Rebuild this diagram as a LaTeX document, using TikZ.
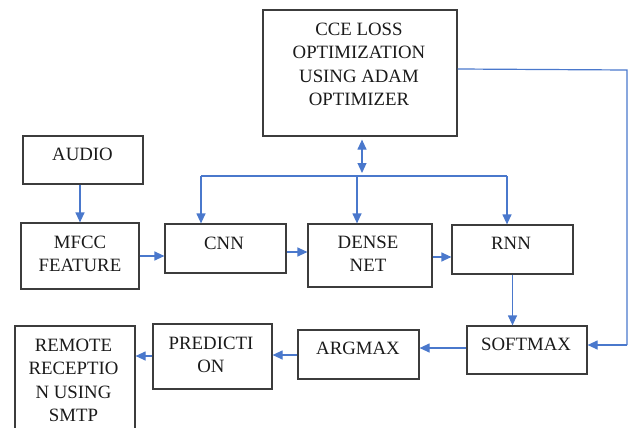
\documentclass[tikz,border=0pt]{standalone}
\usepackage{fontspec}
\setmainfont{Liberation Serif}
\newfontfamily\boxfont{Liberation Serif}
\usetikzlibrary{arrows.meta}
\definecolor{edgec}{HTML}{3C3C3C}
\definecolor{linkc}{HTML}{4A78CC}
\definecolor{textc}{HTML}{1A1A1A}
\begin{document}
\begin{tikzpicture}[x=1pt,y=-1pt,
  box/.style={draw=edgec, line width=1.2pt, rectangle, inner sep=0pt},
  txt/.style={inner sep=0pt, anchor=north, align=center, text=textc,
    font=\boxfont\fontsize{18.8}{23.3}\selectfont},
  tip/.style={Triangle[length=10pt,width=9pt]},
  arr/.style={draw=linkc, line width=1.2pt, -{Triangle[length=10pt,width=9pt]}},
  link/.style={draw=linkc, line width=1.2pt}]
\useasboundingbox (0,0) rectangle (630,428);

% blocks
\node[box, minimum width=120pt, minimum height=48pt]  (audio)   at (83,160) {};
\node[box, minimum width=118pt, minimum height=66pt]  (mfcc)    at (80,256) {};
\node[box, minimum width=121pt, minimum height=49pt]  (cnn)     at (225.5,248.5) {};
\node[box, minimum width=124pt, minimum height=63pt]  (dense)   at (370,255.5) {};
\node[box, minimum width=121pt, minimum height=49pt]  (rnn)     at (512.5,249.5) {};
\node[box, minimum width=194pt, minimum height=126pt] (cce)     at (360,73) {};
\node[box, minimum width=120pt, minimum height=48pt]  (softmax) at (527,350) {};
\node[box, minimum width=121pt, minimum height=49pt]  (argmax)  at (358.5,354.5) {};
\node[box, minimum width=119pt, minimum height=65pt]  (predict) at (212.5,356.5) {};
\node[box, minimum width=120pt, minimum height=110pt] (remote)  at (75,381) {};

% labels
\node[txt] (taudio)   at (82.5,148) {AUDIO};
\node[txt] (tmfcc)    at (80,236)   {MFCC\\FEATURE};
\node[txt] (tcnn)     at (224,237)  {CNN};
\node[txt] (tdense)   at (368,236)  {DENSE\\NET};
\node[txt] (trnn)     at (511,237)  {RNN};
\node[txt] (tcce)     at (359,23)   {CCE LOSS\\OPTIMIZATION\\USING ADAM\\OPTIMIZER};
\node[txt] (tsoftmax) at (526,338)  {SOFTMAX};
\node[txt] (targmax)  at (358,342)  {ARGMAX};
\node[txt] (tpredict) at (211,337)  {PREDICTI\\ON};
\node[txt] (tremote)  at (73.5,339) {REMOTE\\RECEPTIO\\N USING\\SMTP};

% forward chain
\draw[arr] (audio.south -| mfcc.north) -- (mfcc.north);
\draw[arr] (mfcc.east) -- (cnn.west |- mfcc.east);
\draw[arr] (cnn.east |- 0,252) -- (dense.west |- 0,252);
\draw[arr] (dense.east |- 0,257) -- (rnn.west |- 0,257);
\draw[arr] (rnn.south) -- (rnn.south |- softmax.north);
\draw[arr] (softmax.west |- 0,348) -- (argmax.east |- 0,348);
\draw[arr] (argmax.west |- 0,355) -- (predict.east |- 0,355);
\draw[arr] (predict.west |- 0,356) -- (remote.east |- 0,356);

% optimizer bus
\coordinate (busL) at (201,176);
\coordinate (busD) at (357,176);
\coordinate (busR) at (507,176);
\coordinate (busT) at (362,173);
\draw[link] (busL) -- (busR);
\draw[draw=linkc, line width=1.2pt, {Triangle[length=10pt,width=9pt]}-{Triangle[length=10pt,width=9pt]}]
  ([yshift=-3pt]cce.south -| busT) -- (busT);
\draw[arr] (busL) -- (busL |- cnn.north);
\draw[arr] (busD) -- (busD |- dense.north);
\draw[arr] (busR) -- (busR |- rnn.north);

% feedback from loss to softmax
\coordinate (fbTop) at (627,70);
\coordinate (fbBot) at (627,345);
\draw[link] (cce.east |- 0,69) -- (fbTop) -- (fbBot);
\draw[arr] (fbBot) -- (softmax.east |- fbBot);
\end{tikzpicture}
\end{document}
